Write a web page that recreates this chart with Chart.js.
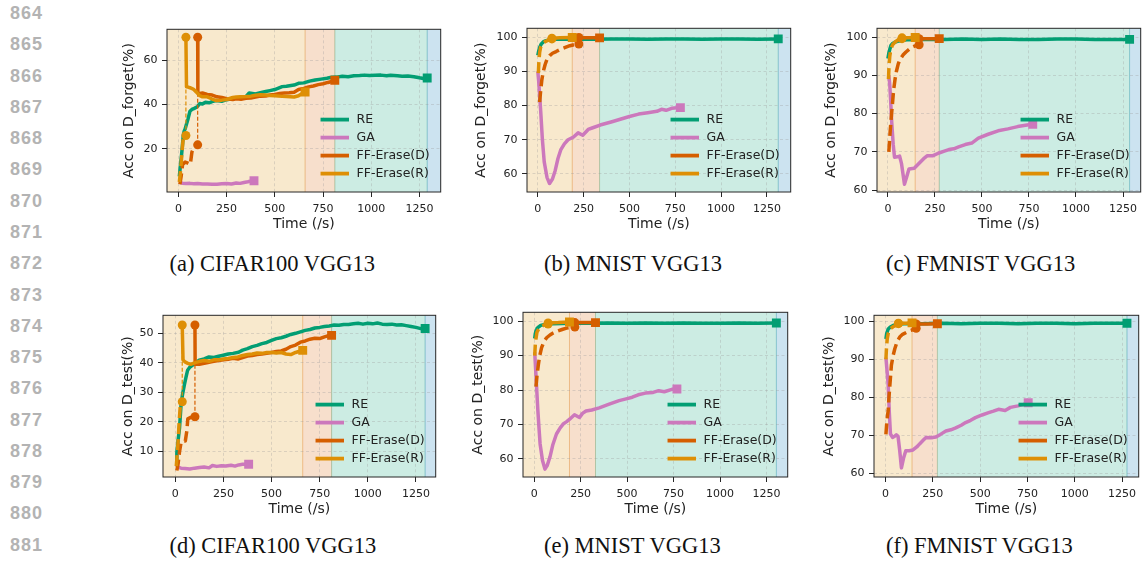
<!DOCTYPE html>
<html>
<head>
<meta charset="utf-8">
<style>
  body { margin: 0; width: 1147px; height: 564px; background: #fff; position: relative; overflow: hidden; }
  canvas { position: absolute; }
  .ln { position: absolute; left: 10px; font: bold 18px "Liberation Sans"; letter-spacing: 1px; line-height: 18px; color: #b3b3b3; }
  .cap { position: absolute; font: 22.5px "Liberation Serif"; line-height: 22.5px; color: #111; white-space: nowrap; }
</style>
<script src="https://cdn.jsdelivr.net/npm/chart.js"></script>
</head>
<body>
<script>
// ---- data ----
const seriesNames = ['RE', 'GA', 'FF-Erase(D)', 'FF-Erase(R)'];
const xTicks = [0, 250, 500, 750, 1000, 1250];
const yTicksCifarForget = [20, 40, 60];
const yTicksCifarTest = [10, 20, 30, 40, 50];
const yTicksHigh = [60, 70, 80, 90, 100];

// (a) CIFAR100, D_forget
const cfRE = [[5,7.5],[10,12],[15,16],[20,20.5],[25,26],[30,28],[35,29],[40,30.5],[50,33.5],[60,37],[70,37.8],[80,38.2],[90,38.6],[100,39.2],[111,40.5],[125,40.3],[140,41],[160,40.8],[180,41.5],[197,41.8],[225,41.5],[250,42.2],[282,42.7],[300,43],[325,43.3],[350,43.6],[367,45.2],[400,44.8],[425,45.4],[453,45.9],[475,46.3],[500,46.8],[538,48.1],[560,48.3],[600,48.8],[623,49.6],[650,49.8],[680,50.6],[709,51.1],[740,51.5],[770,51.9],[794,52.3],[820,52.4],[850,52.8],[880,52.6],[910,53],[940,53.1],[965,53.3],[990,53.1],[1020,53.2],[1050,53.3],[1080,53],[1100,53.2],[1136,53],[1160,52.8],[1190,52.9],[1221,52.6],[1250,52.1],[1270,51.8],[1290,52]];
const cfGA = [[10,4.8],[20,4.5],[40,4.3],[60,4.4],[80,4.2],[100,4.3],[125,4.1],[150,4.1],[175,4],[200,4],[225,4.2],[250,4.3],[275,4.1],[300,4.6],[320,4.4],[340,4.8],[360,5.1],[380,5.5],[392,5.6]];
const cfDPre = [[8,4],[15,8],[22,13],[35,14],[50,13.5],[62,13],[70,18.5],[80,20.5],[100,21.8]];
const cfDPost = [[100,70.4],[101,45.2],[111,45],[125,45.2],[150,44.6],[175,44.3],[200,43.5],[225,43.2],[250,42.6],[282,42.3],[300,42.6],[325,42.4],[350,42.8],[375,43],[400,43.4],[425,43.8],[453,43.9],[475,44.3],[500,44.6],[525,45],[550,45.2],[575,45.3],[600,45.6],[623,46.8],[650,47.3],[675,48],[700,48.4],[725,49],[750,49.4],[775,50],[794,50.4],[811,51]];
const cfRPre = [[5,5],[10,9],[15,14],[20,20],[26,25.5],[32,26],[39,26]];
const cfRPost = [[39,70.4],[42,48],[50,47.9],[60,47.6],[77,47],[95,45.5],[111,44],[125,43.5],[150,43.5],[175,42.5],[197,41.8],[225,42],[250,42.3],[282,43.2],[300,43.4],[325,43.5],[350,43.6],[375,43.8],[400,44.2],[425,44.4],[453,44.3],[475,44.1],[500,44],[538,43.7],[560,43.6],[600,43.4],[623,44],[645,45.2],[657,45.7]];

// (b) MNIST, D_forget
const mfRE = [[0,94.7],[5,96],[10,97],[15,97.6],[20,98.1],[32,98.7],[45,99],[68,99.3],[100,99.4],[200,99.5],[300,99.4],[400,99.5],[500,99.5],[600,99.4],[700,99.5],[800,99.5],[900,99.4],[1000,99.5],[1100,99.5],[1200,99.4],[1312,99.5]];
const mfGA = [[0,90],[5,87],[10,83],[15,79],[25,70],[35,63.5],[50,59],[64,57.2],[80,58.5],[95,61],[110,64.5],[125,67],[145,68.8],[165,70],[195,70.8],[220,72],[245,71.3],[275,73],[300,73.5],[340,74.3],[400,75.2],[450,76],[500,76.8],[550,77.5],[600,77.9],[650,78.3],[675,78.9],[700,78.6],[730,79.2],[778,79.4]];
const mfDPre = [[10,81],[15,84],[22,87.5],[30,90],[40,92],[50,93.5],[65,94.6],[80,95.3],[100,95.8],[125,96.5],[150,97],[175,97.5],[200,97.8],[224,98]];
const mfDPost = [[224,99.9],[260,99.8],[300,99.8],[337,99.8]];
const mfRPre = [[3,89.5],[6,93],[10,95.5],[15,97],[25,98],[40,98.7],[60,99.2],[77,99.5]];
const mfRPost = [[77,99.7],[120,99.8],[188,99.9]];

// (c) FMNIST, D_forget
const ffRE = [[0,94.4],[5,95.8],[10,96.8],[17,97.9],[25,98.3],[35,98.6],[50,98.9],[75,99.1],[100,99.3],[200,99.4],[300,99.4],[400,99.5],[500,99.4],[600,99.5],[700,99.4],[800,99.4],[900,99.5],[1000,99.5],[1100,99.4],[1200,99.4],[1285,99.4]];
const ffGA = [[5,90],[10,87.5],[15,83],[20,78],[28,72],[35,68.6],[50,68.7],[62,68.9],[72,67],[88,61.5],[100,63.5],[112,65.5],[140,65.7],[166,67],[190,68.2],[210,69],[240,69],[271,69.7],[300,70.2],[324,70.6],[350,70.8],[376,71.3],[411,71.9],[446,72.3],[481,73.6],[533,74.6],[586,75.5],[638,76],[690,76.6],[740,77],[770,77.2]];
const ffDPre = [[5,70],[10,74],[17,78.5],[25,83],[30,86],[38,89],[45,91],[55,93],[63,94],[80,95.3],[96,96.1],[115,96.9],[131,97.4],[150,97.8],[166,98]];
const ffDPost = [[166,99.6],[220,99.6],[273,99.6]];
const ffRPre = [[3,89],[6,92.5],[10,95],[15,96.7],[25,98],[40,98.8],[55,99.3],[75,99.6]];
const ffRPost = [[75,99.8],[110,99.8],[145,99.9]];

// (d) CIFAR100, D_test
const ctRE = [[5,7],[8,9.6],[15,14],[22,18],[30,26],[38,29.5],[47,32.5],[55,35],[64,37.5],[75,38.5],[90,39.2],[105,40],[124,40.9],[150,41.3],[175,42],[200,41.8],[225,42.2],[244,42.5],[275,43],[300,43.2],[329,43.6],[350,44.3],[375,44.8],[400,45.5],[425,45.9],[450,46.5],[475,46.9],[500,47.6],[525,48.2],[550,48.5],[575,49],[600,49.6],[625,50],[650,50.5],[675,51],[700,51.3],[725,51.8],[750,52],[775,52.3],[800,52.5],[825,52.8],[850,52.7],[875,53],[900,53],[925,53.2],[950,53.4],[975,53.1],[1000,53.4],[1025,53.2],[1050,53.5],[1075,53.1],[1100,53],[1125,53.1],[1150,52.8],[1175,52.9],[1200,52.6],[1225,52.3],[1250,52],[1275,51.6],[1298,51.6]];
const ctGA = [[8,5.3],[15,4.6],[30,4.3],[50,4.2],[75,4],[100,4.3],[125,4.5],[150,4.7],[175,4.4],[193,5.2],[215,4.9],[240,5.1],[262,5],[290,5.3],[310,5],[329,5.4],[350,5.6],[381,5.6]];
const ctDPre = [[8,3.5],[15,6],[22,10],[30,13],[40,13.5],[52,13.5],[60,17],[65,21],[80,21.5],[102,21.7]];
const ctDPost = [[102,52.8],[103,39.5],[125,39.5],[150,39.8],[175,40.2],[200,40.5],[225,40.8],[250,41],[275,41.2],[300,41.5],[325,41.3],[350,41.8],[375,42.3],[400,42.5],[425,42.8],[450,43],[475,43.2],[500,43.5],[525,43.8],[550,44],[575,44.6],[600,45.5],[625,46],[650,47],[675,47.4],[700,48],[725,48.3],[750,48.2],[775,48.8],[800,49.3],[812,49.3]];
const ctRPre = [[5,5],[10,9],[15,14],[20,20],[27,26.5],[36,26.8]];
const ctRPost = [[36,52.8],[40,41],[50,40.3],[65,39.8],[80,39.5],[100,40],[125,40.5],[150,40.8],[175,40.5],[200,41],[225,41],[250,41.3],[275,41.5],[300,41.8],[325,42],[350,42.5],[375,42.8],[400,43],[425,43.3],[450,43.2],[475,43.5],[500,43.5],[525,43.3],[550,43.5],[575,43],[600,42.8],[625,43.5],[650,44],[662,44.2]];

// (e) MNIST, D_test
const mtRE = [[3,95],[6,96.3],[10,97.2],[15,97.9],[23,98.3],[35,98.8],[58,99.1],[100,99.3],[200,99.4],[300,99.4],[400,99.5],[500,99.4],[600,99.5],[700,99.4],[800,99.5],[900,99.4],[1000,99.4],[1100,99.5],[1200,99.4],[1303,99.5]];
const mtGA = [[3,91],[8,86],[14,80],[20,74],[26,69],[32,64.3],[45,59.5],[58,57],[70,58],[85,60.5],[100,64],[120,67.2],[140,69],[156,70.1],[175,70.8],[191,71.5],[217,72.8],[244,72],[260,73.2],[279,73.9],[310,74.2],[350,74.8],[400,75.8],[457,76.9],[500,77.5],[528,77.9],[560,78.6],[599,79.1],[640,79.3],[670,79.8],[700,79.5],[741,80.2],[768,80.3]];
const mtDPre = [[10,81],[15,84],[23,87.5],[30,90],[40,92.3],[52,94],[67,95.2],[85,96],[100,96.5],[120,97],[150,97.6],[174,98],[200,98.2],[219,98.3]];
const mtDPost = [[219,99.6],[260,99.6],[300,99.6],[330,99.6]];
const mtRPre = [[3,90],[6,93],[10,95],[15,96.8],[25,97.8],[40,98.5],[55,98.9],[75,99.2]];
const mtRPost = [[75,99.5],[130,99.6],[190,99.8]];

// (f) FMNIST, D_test
const ftRE = [[2,95.4],[6,96.8],[14,98],[25,98.5],[40,98.9],[75,99.3],[100,99.4],[200,99.4],[300,99.5],[400,99.4],[500,99.5],[600,99.5],[700,99.4],[800,99.5],[900,99.5],[1000,99.4],[1100,99.5],[1200,99.5],[1276,99.5]];
const ftGA = [[2,90.5],[8,87],[14,83.3],[20,76],[26,70.4],[37,69.5],[48,69.8],[57,70.2],[66,69.8],[75,66],[84,61.5],[95,64],[107,66],[125,66],[145,66.2],[165,67],[180,67.8],[200,68.8],[214,69.5],[240,69.4],[266,69.6],[290,70.3],[319,71.2],[345,71.5],[371,72],[400,72.7],[423,73.4],[450,74],[475,74.7],[510,75.4],[545,76],[570,76.4],[597,76.9],[632,76.6],[660,77.4],[700,77.8],[730,78.2],[754,78.6]];
const ftDPre = [[2,70.3],[6,73],[10,75],[14,76.5],[18,80],[23,83.3],[31,88.5],[40,91],[49,92.8],[60,94.5],[75,95.9],[90,96.6],[110,97.1],[130,97.6],[144,97.8],[162,98.2]];
const ftDPost = [[162,99.3],[220,99.3],[274,99.4]];
const ftRPre = [[2,90],[5,93],[9,95.4],[15,97],[23,98],[40,98.6],[58,99],[68,99.4]];
const ftRPost = [[68,99.5],[100,99.5],[140,99.6]];

// ---- panels ----
const COL = { RE: '#029e73', GA: '#cc78bc', D: '#d55e00', R: '#de8f05', tail: '#0173b2' };
const FONT = '"DejaVu Sans"';
Chart.defaults.font.family = FONT;

const panels = [
  { cap: '(a) CIFAR100 VGG13', capX: 169.5, capY: 252.8, plot: [167, 27, 444, 192], titleX: 129.5,
    x: [-59, 1360], y: [0.5, 74], yTicks: yTicksCifarForget, yTitle: 'Acc on D_forget(%)',
    re: cfRE, ga: cfGA, dPre: cfDPre, dPost: cfDPost, rPre: cfRPre, rPost: cfRPost },
  { cap: '(b) MNIST VGG13', capX: 544, capY: 252.8, plot: [527, 26, 794, 192], titleX: 481.5,
    x: [-59, 1380], y: [54.7, 102.6], yTicks: yTicksHigh, yTitle: 'Acc on D_forget(%)',
    re: mfRE, ga: mfGA, dPre: mfDPre, dPost: mfDPost, rPre: mfRPre, rPost: mfRPost },
  { cap: '(c) FMNIST VGG13', capX: 886, capY: 252.8, plot: [877, 26, 1144, 192], titleX: 831.5,
    x: [-58, 1344], y: [59.5, 102.3], yTicks: yTicksHigh, yTitle: 'Acc on D_forget(%)',
    re: ffRE, ga: ffGA, dPre: ffDPre, dPost: ffDPost, rPre: ffRPre, rPost: ffRPost },
  { cap: '(d) CIFAR100 VGG13', capX: 169.5, capY: 534.6, plot: [163, 313, 439, 477], titleX: 128.5,
    x: [-64, 1353], y: [1.3, 56.1], yTicks: yTicksCifarTest, yTitle: 'Acc on D_test(%)',
    re: ctRE, ga: ctGA, dPre: ctDPre, dPost: ctDPost, rPre: ctRPre, rPost: ctRPost },
  { cap: '(e) MNIST VGG13', capX: 544, capY: 534.6, plot: [523, 310, 791, 477], titleX: 478.5,
    x: [-60, 1364], y: [54.7, 102.6], yTicks: yTicksHigh, yTitle: 'Acc on D_test(%)',
    re: mtRE, ga: mtGA, dPre: mtDPre, dPost: mtDPost, rPre: mtRPre, rPost: mtRPost },
  { cap: '(f) FMNIST VGG13', capX: 886, capY: 534.6, plot: [874, 313, 1142, 477], titleX: 829.5,
    x: [-61, 1338], y: [59.1, 101.6], yTicks: yTicksHigh, yTitle: 'Acc on D_test(%)',
    re: ftRE, ga: ftGA, dPre: ftDPre, dPost: ftDPost, rPre: ftRPre, rPost: ftRPost },
];

const pts = arr => arr.map(([x, y]) => ({ x, y }));
const last = arr => arr[arr.length - 1][0];
const RAD = { circle: 4.5, rect: 6.3 };

function markers(n, first, end) {
  const pick = i => (i === 0 && first) ? first : ((i === n - 1 && end) ? end : null);
  return {
    pointStyle: c => pick(c.dataIndex) || 'circle',
    pointRadius: c => { const s = pick(c.dataIndex); return s ? RAD[s] : 0; },
    pointHoverRadius: 0,
    pointBorderWidth: 0,
  };
}

function line(data, color, extra) {
  return Object.assign({
    data: pts(data), borderColor: color, backgroundColor: color,
    borderWidth: 3.5, pointRadius: 0, fill: false, tension: 0,
    borderJoinStyle: 'round', borderCapStyle: 'butt',
  }, extra);
}

function buildDatasets(p) {
  const ds = [];
  ds.push(line(p.re, COL.RE, markers(p.re.length, null, 'rect')));
  ds.push(line(p.ga, COL.GA, markers(p.ga.length, null, 'rect')));
  for (const [pre, post, col] of [[p.dPre, p.dPost, COL.D], [p.rPre, p.rPost, COL.R]]) {
    ds.push(line(pre, col, Object.assign({ borderDash: [11, 5] }, markers(pre.length, null, 'circle'))));
    ds.push(line([pre[pre.length - 1], post[0]], col, { borderWidth: 1.2, borderDash: [4, 2] }));
    ds.push(line(post, col, markers(post.length, 'circle', 'rect')));
  }
  // first dataset at the bottom, last on top
  ds.forEach((d, i) => { d.order = ds.length - i; });
  return ds;
}

// shaded phases, frame and legend
const decor = {
  id: 'decor',
  beforeDraw(chart, args, opts) {
    const { ctx, chartArea: a, scales: { x } } = chart;
    const e = [a.left, ...opts.spans.map(v => x.getPixelForValue(v)), a.right];
    const cols = [COL.R, COL.D, COL.RE, COL.tail];
    ctx.save();
    ctx.globalAlpha = 0.2;
    ctx.lineWidth = 1;
    cols.forEach((c, i) => {
      ctx.fillStyle = c;
      ctx.fillRect(e[i], a.top, e[i + 1] - e[i], a.bottom - a.top);
      ctx.strokeStyle = c;
      ctx.beginPath();
      if (i > 0) { ctx.moveTo(e[i], a.top); ctx.lineTo(e[i], a.bottom); }
      if (i < 3) { ctx.moveTo(e[i + 1], a.top); ctx.lineTo(e[i + 1], a.bottom); }
      ctx.stroke();
    });
    ctx.restore();
  },
  afterDraw(chart) {
    const { ctx, chartArea: a } = chart;
    ctx.save();
    ctx.strokeStyle = '#262626';
    ctx.lineWidth = 1;
    ctx.strokeRect(a.left, a.top, a.right - a.left, a.bottom - a.top);
    ctx.font = '12.5px ' + FONT;
    const cols = [COL.RE, COL.GA, COL.D, COL.R];
    const w = Math.max(...seriesNames.map(n => ctx.measureText(n).width));
    const x0 = a.right - 11 - w - 36;
    seriesNames.forEach((n, i) => {
      const y = a.bottom - 18.4 - (3 - i) * 18;
      ctx.strokeStyle = cols[i];
      ctx.lineWidth = 3.8;
      ctx.beginPath(); ctx.moveTo(x0, y); ctx.lineTo(x0 + 28.5, y); ctx.stroke();
      ctx.fillStyle = '#222';
      ctx.textBaseline = 'middle';
      ctx.fillText(n, x0 + 36, y);
    });
    ctx.restore();
  }
};

const gridOpts = { color: 'rgba(150,150,150,0.4)', lineWidth: 0.8, tickColor: '#262626', tickLength: 5, tickWidth: 1 };
const tickFont = { size: 11, family: FONT };
const titleFont = { size: 14, family: FONT };

panels.forEach(p => {
  const [l, t, r, b] = p.plot;
  const padTop = 4, padRight = 3, xAxisH = 44;
  const left = Math.round(p.titleX - 12.4);
  const yW = l - left;
  const cv = document.createElement('canvas');
  cv.width = yW + (r - l) + padRight;
  cv.height = padTop + (b - t) + xAxisH;
  cv.style.left = left + 'px';
  cv.style.top = (t - padTop) + 'px';
  document.body.appendChild(cv);

  new Chart(cv.getContext('2d'), {
    type: 'line',
    data: { datasets: buildDatasets(p) },
    options: {
      responsive: false, animation: false, devicePixelRatio: 1,
      layout: { padding: { top: padTop, right: padRight, left: 0, bottom: 0 } },
      plugins: {
        legend: { display: false }, tooltip: { enabled: false },
        decor: { spans: [last(p.rPost), last(p.dPost), last(p.re)] }
      },
      scales: {
        x: {
          type: 'linear', min: p.x[0], max: p.x[1],
          afterBuildTicks: s => { s.ticks = xTicks.map(v => ({ value: v })); },
          afterFit: s => { s.height = xAxisH; s.paddingLeft = 0; s.paddingRight = 0; },
          ticks: { font: tickFont, color: '#222', padding: 5.5, maxRotation: 0, autoSkip: false, callback: v => String(v) },
          grid: gridOpts,
          border: { display: false, dash: [3, 2.5] },
          title: { display: true, text: 'Time (/s)', font: titleFont, color: '#222', padding: { top: 4, bottom: 3 } }
        },
        y: {
          type: 'linear', min: p.y[0], max: p.y[1],
          afterBuildTicks: s => { s.ticks = p.yTicks.map(v => ({ value: v })); },
          afterFit: s => { s.width = yW; s.paddingTop = 0; s.paddingBottom = 0; },
          ticks: { font: tickFont, color: '#222', padding: 4.5, autoSkip: false, callback: v => String(v) },
          grid: gridOpts,
          border: { display: false, dash: [3, 2.5] },
          title: { display: true, text: p.yTitle, font: titleFont, color: '#222', padding: { top: 4, bottom: 4 } }
        }
      }
    },
    plugins: [decor]
  });

  const cap = document.createElement('div');
  cap.className = 'cap';
  cap.style.left = p.capX + 'px';
  cap.style.top = p.capY + 'px';
  cap.textContent = p.cap;
  document.body.appendChild(cap);
});

// margin line numbers
for (let i = 0; i < 18; i++) {
  const d = document.createElement('div');
  d.className = 'ln';
  d.style.top = (4 + i * 31.28) + 'px';
  d.textContent = String(864 + i);
  document.body.appendChild(d);
}
</script>
</body>
</html>
